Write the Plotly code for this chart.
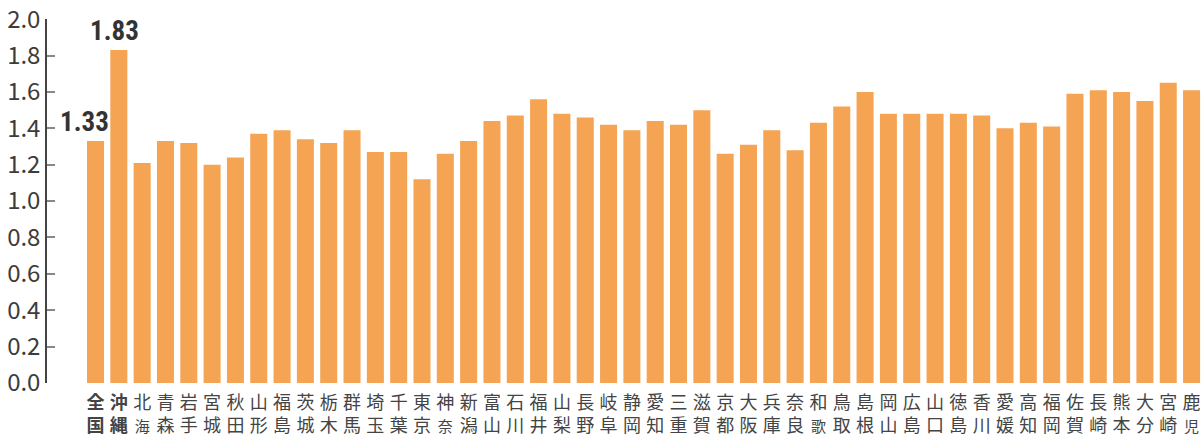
import plotly.graph_objects as go

names = ["全国","沖縄","北海道","青森","岩手","宮城","秋田","山形","福島","茨城","栃木","群馬",
         "埼玉","千葉","東京","神奈川","新潟","富山","石川","福井","山梨","長野","岐阜","静岡",
         "愛知","三重","滋賀","京都","大阪","兵庫","奈良","和歌山","鳥取","島根","岡山","広島",
         "山口","徳島","香川","愛媛","高知","福岡","佐賀","長崎","熊本","大分","宮崎","鹿児島"]
values = [1.33,1.83,1.21,1.33,1.32,1.20,1.24,1.37,1.39,1.34,1.32,1.39,
          1.27,1.27,1.12,1.26,1.33,1.44,1.47,1.56,1.48,1.46,1.42,1.39,
          1.44,1.42,1.50,1.26,1.31,1.39,1.28,1.43,1.52,1.60,1.48,1.48,
          1.48,1.48,1.47,1.40,1.43,1.41,1.59,1.61,1.60,1.55,1.65,1.61]
y_ticks = [0.0, 0.2, 0.4, 0.6, 0.8, 1.0, 1.2, 1.4, 1.6, 1.8, 2.0]
bold_names = ["全国", "沖縄"]
label_names = ["全国", "沖縄"]
label_shift = [-11, -4]

def tick_label(n):
    if len(n) == 2:
        s = n[0] + "<br>" + n[1]
    else:
        s = n[0] + "<br><span style='font-size:15px'>" + "<br>".join(n[1:]) + "</span>"
    if n in bold_names:
        s = "<b>" + s + "</b>"
    return s

fig = go.Figure(go.Bar(x=names, y=values, marker_color="#F5A453", marker_line_width=0))

for n, dx in zip(label_names, label_shift):
    v = values[names.index(n)]
    fig.add_annotation(x=n, y=v, text=f"<b>{v:.2f}</b>", showarrow=False,
                       xanchor="center", yanchor="bottom", xshift=dx, yshift=1,
                       font=dict(family="Liberation Sans Narrow, Roboto Condensed, DejaVu Sans Condensed, Noto Sans CJK JP",
                                 size=27, color="#333333"))

fig.update_layout(
    width=1203, height=435,
    margin=dict(l=47, r=0, t=19, b=52),
    plot_bgcolor="white", paper_bgcolor="white",
    bargap=0.27, showlegend=False,
    font=dict(family="Noto Sans CJK JP"),
)
fig.update_xaxes(range=[-2.08, 47.49], tickvals=names, ticktext=[tick_label(n) for n in names],
                 tickangle=0, ticks="", showline=False, showgrid=False, zeroline=False,
                 automargin=False, ticklabelstandoff=7,
                 tickfont=dict(family="Noto Sans CJK JP", size=18, color="#444444"))
fig.update_yaxes(range=[0, 2.001], tickvals=y_ticks, ticktext=[f"{v:.1f}" for v in y_ticks],
                 showline=True, linecolor="#444444", automargin=False, ticklabeloverflow="allow",
                 linewidth=1.5, ticks="inside", ticklen=8, tickcolor="#888888", tickwidth=1.5,
                 showgrid=False, zeroline=False,
                 tickfont=dict(family="Noto Sans CJK JP", size=24, color="#3c3c3c"))

fig.write_html("out.html")
